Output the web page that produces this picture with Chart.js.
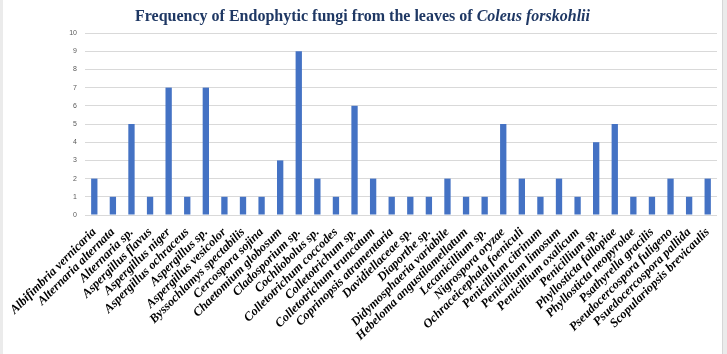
<!DOCTYPE html>
<html>
<head>
<meta charset="utf-8">
<script src="https://cdn.jsdelivr.net/npm/chart.js@4/dist/chart.umd.min.js"></script>
<style>
  html, body { margin: 0; padding: 0; background: #ffffff; }
  #wrap { position: relative; width: 727px; height: 354px; background: #ffffff; overflow: hidden; }
  #leftbar { position: absolute; left: 0; top: 0; width: 3px; height: 354px; background: #ebebeb; }
  #rightbar { position: absolute; left: 722px; top: 0; width: 5px; height: 354px; background: #ebebeb; border-left: 1px solid #d6d6d6; box-sizing: border-box; }
  #title { position: absolute; left: 0; top: 7px; width: 725px; text-align: center;
           font-family: "Liberation Serif", serif; font-weight: bold; font-size: 16px; color: #1f3864; white-space: nowrap; }
  canvas { position: absolute; left: 0; top: 0; }
</style>
</head>
<body>
<div id="wrap">
  <div id="leftbar"></div>
  <div id="rightbar"></div>
  <canvas id="c" width="727" height="354"></canvas>
  <div id="title">Frequency of Endophytic fungi from the leaves of <i>Coleus forskohlii</i></div>
</div>
<script>
const categories = [
  "Albifimbria vernicaria", "Alternaria alternata", "Alternaria sp.", "Aspergillus flavus",
  "Aspergillus niger", "Aspergillus ochraceus", "Aspergillus sp.", "Aspergillus vesicolor",
  "Byssochlamys spectabilis", "Cercospora sojina", "Chaetomium globosum", "Cladosporium sp.",
  "Cochliobolus sp.", "Colletotrichum coccodes", "Colletotrichum sp.", "Colletotrichum truncatum",
  "Coprinopsis atramentaria", "Davidiellaceae sp.", "Diaporthe sp.", "Didymosphaeria variabile",
  "Hebeloma angustilamellatum", "Lecanicillium sp.", "Nigrospora oryzae", "Ochraceicephala foeniculi",
  "Penicillium citrinum", "Penicillium limosum", "Penicillium oxalicum", "Penicillium sp.",
  "Phyllosticta fallopiae", "Phyllosticta neopyrolae", "Psathyrella gracilis", "Pseudocercospora fuligeno",
  "Psuedocercospora pallida", "Scopulariopsis brevicaulis"
];
const frequency = [
  2, 1, 5, 1,
  7, 1, 7, 1,
  1, 1, 3, 9,
  2, 1, 6, 2,
  1, 1, 1, 2,
  1, 1, 5, 2,
  1, 2, 1, 4,
  5, 1, 1, 2,
  1, 2
];
const yTicks = [0, 1, 2, 3, 4, 5, 6, 7, 8, 9, 10];

new Chart(document.getElementById('c'), {
  type: 'bar',
  data: {
    labels: categories,
    datasets: [{
      label: 'Frequency',
      data: frequency,
      backgroundColor: '#4472c4',
      borderWidth: 0,
      barPercentage: 0.34,
      categoryPercentage: 1.0
    }]
  },
  options: {
    responsive: false,
    animation: false,
    devicePixelRatio: 1,
    layout: { padding: { top: 33, left: 4, right: 10, bottom: 0 } },
    plugins: { legend: { display: false }, title: { display: false }, tooltip: { enabled: false } },
    scales: {
      x: {
        grid: { display: false, drawTicks: false },
        border: { display: false },
        ticks: {
          autoSkip: false,
          maxRotation: 45, minRotation: 45,
          padding: 10,
          color: '#000000',
          font: { family: 'Liberation Serif', size: 12.5, style: 'italic', weight: 'bold' }
        },
        afterFit: (s) => { s.height = 139; s.paddingLeft = 0; s.paddingRight = 0; }
      },
      y: {
        min: 0, max: 10,
        afterBuildTicks: (s) => { s.ticks = yTicks.map(v => ({ value: v })); },
        grid: { color: '#d9d9d9', lineWidth: 1, drawTicks: false },
        border: { display: false },
        ticks: {
          padding: 8,
          color: '#595959',
          font: { family: 'Liberation Sans', size: 7 }
        },
        afterFit: (s) => { s.width = 81; }
      }
    }
  }
});
</script>
</body>
</html>
